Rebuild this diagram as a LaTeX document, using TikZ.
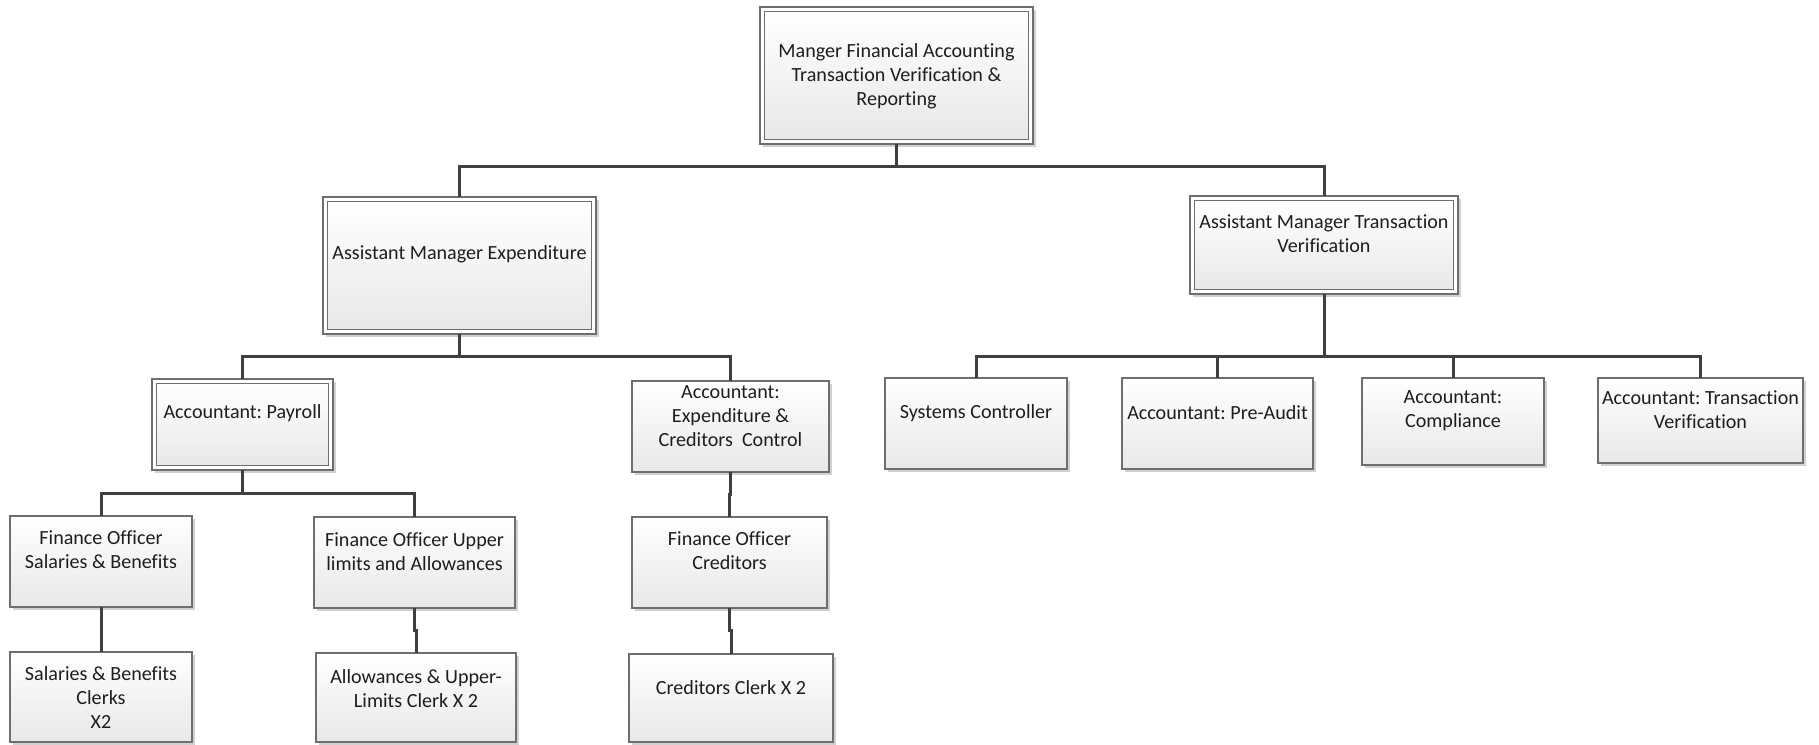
\documentclass[tikz,border=0pt]{standalone}
\usepackage{fontspec}
\setmainfont{Carlito}[Ligatures={NoCommon}]
\usetikzlibrary{shadows}
\frenchspacing

\definecolor{edgegray}{HTML}{6E6E6E}
\definecolor{linkgray}{HTML}{3F3F3F}
\definecolor{fillbot}{HTML}{E8E8E8}
\definecolor{inkcol}{HTML}{1E1E1E}

\tikzset{
  boxshadow/.style={drop shadow={shadow xshift=3pt, shadow yshift=-3pt, opacity=.3, fill=black!60}},
  box/.style={draw=edgegray, line width=1.1pt, inner sep=0pt, outer sep=0pt,
              top color=white, bottom color=fillbot, boxshadow},
  outerbox/.style={draw=edgegray, line width=1.1pt, inner sep=0pt, outer sep=0pt,
              fill=white, boxshadow},
  innerbox/.style={draw=edgegray, line width=1.1pt, inner sep=0pt, outer sep=0pt,
              top color=white, bottom color=fillbot},
  lbl/.style={align=center, text=inkcol, font=\fontsize{20.1}{24}\selectfont, inner sep=0pt},
  conn/.style={draw=linkgray, line width=3pt},
}

% plain box: name, left, top, right, bottom
\newcommand{\plainbox}[5]{%
  \node[box, minimum width={(#4-(#2))*1pt}, minimum height={(#5-(#3))*1pt}]
    (#1) at ({(#2+#4)/2},{(#3+#5)/2}) {};}
% double-framed box: name, left, top, right, bottom
\newcommand{\framedbox}[5]{%
  \node[outerbox, minimum width={(#4-(#2))*1pt}, minimum height={(#5-(#3))*1pt}]
    (#1) at ({(#2+#4)/2},{(#3+#5)/2}) {};
  \node[innerbox, minimum width={(#4-(#2)-9)*1pt}, minimum height={(#5-(#3)-9)*1pt}]
    (#1-in) at ({(#2+#4)/2},{(#3+#5)/2}) {};}

\begin{document}
\begin{tikzpicture}[x=1pt, y=-1pt]
  \useasboundingbox (0,0) rectangle (1819,744);

  % managers
  \framedbox{top}{760}{7}{1033}{144}
  \node[lbl] (top-t) at (896.5,76) {Manger Financial Accounting\\Transaction Verification \&\\Reporting};

  \framedbox{amx}{323}{197}{596}{334}
  \node[lbl] (amx-t) at (459.5,254) {Assistant Manager Expenditure};

  \framedbox{amt}{1190}{196}{1458}{294}
  \node[lbl] (amt-t) at (1324,233.5) {Assistant Manager Transaction\\Verification};

  % expenditure branch
  \framedbox{pay}{152}{379}{333}{470}
  \node[lbl] (pay-t) at (242.5,413) {Accountant: Payroll};

  \plainbox{acx}{632}{381}{829}{472}
  \node[lbl] (acx-t) at (730.5,416) {Accountant:\\Expenditure \&\\Creditors~ Control};

  \plainbox{fos}{10}{516}{192}{607}
  \node[lbl] (fos-t) at (101,549.5) {Finance Officer\\Salaries \& Benefits};

  \plainbox{fou}{314}{517}{515}{608}
  \node[lbl] (fou-t) at (414.5,551.5) {Finance Officer Upper\\limits and Allowances};

  \plainbox{foc}{632}{517}{827}{608}
  \node[lbl] (foc-t) at (729.5,551) {Finance Officer\\Creditors};

  \plainbox{sbc}{10}{652}{192}{742}
  \node[lbl] (sbc-t) at (101,697.5) {Salaries \& Benefits\\Clerks\\X2};

  \plainbox{auc}{316}{653}{516}{742}
  \node[lbl] (auc-t) at (416,689) {Allowances \& Upper-\\Limits Clerk X 2};

  \plainbox{crc}{629}{654}{833}{742}
  \node[lbl] (crc-t) at (731,688) {Creditors Clerk X 2};

  % transaction verification branch
  \plainbox{sys}{885}{378}{1067}{469}
  \node[lbl] (sys-t) at (976,413) {Systems Controller};

  \plainbox{pre}{1122}{378}{1313}{469}
  \node[lbl] (pre-t) at (1217.5,413) {Accountant: Pre-Audit};

  \plainbox{cmp}{1362}{378}{1544}{465}
  \node[lbl] (cmp-t) at (1453,410.5) {Accountant:\\Compliance};

  \plainbox{atv}{1598}{378}{1803}{463}
  \node[lbl] (atv-t) at (1700.5,409.5) {Accountant: Transaction\\Verification};

  % reporting lines
  \draw[conn] (top.south) -- ++(0,22) -| (amx.north);
  \draw[conn] (top.south) -- ++(0,22) -| (amt.north);

  \draw[conn] (amx.south) -- ++(0,22) -| (pay.north);
  \draw[conn] (amx.south) -- ++(0,22) -| (acx.north);

  \draw[conn] (amt.south) -- ++(0,62) -| (sys.north);
  \draw[conn] (amt.south) -- ++(0,62) -| (pre.north);
  \draw[conn] (amt.south) -- ++(0,62) -| (cmp.north);
  \draw[conn] (amt.south) -- ++(0,62) -| (atv.north);

  \draw[conn] (pay.south) -- ++(0,23) -| (fos.north);
  \draw[conn] (pay.south) -- ++(0,23) -| (fou.north);

  \draw[conn] (acx.south) -- ++(0,22) -| (foc.north);
  \draw[conn] (fos.south) -- (sbc.north);
  \draw[conn] (fou.south) -- ++(0,22) -| (auc.north);
  \draw[conn] (foc.south) -- ++(0,22) -| (crc.north);
\end{tikzpicture}
\end{document}
